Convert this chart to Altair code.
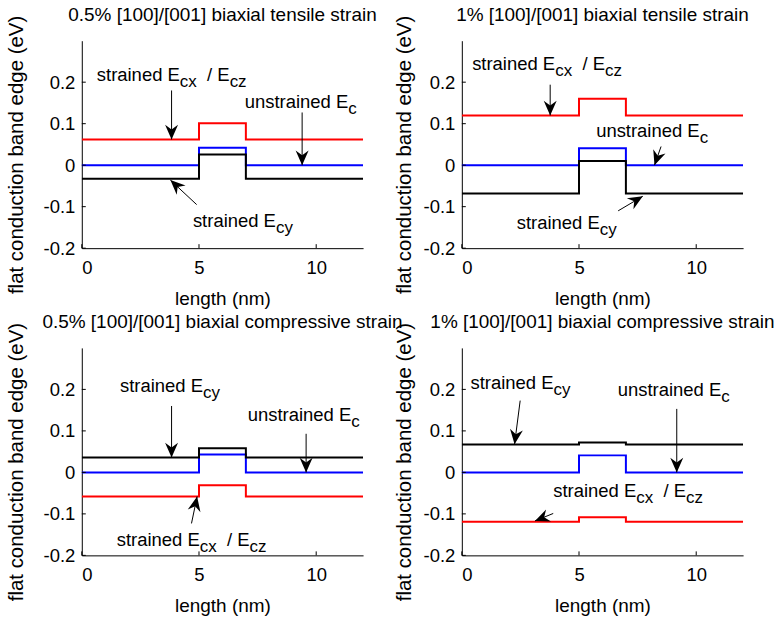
import math
import altair as alt
import pandas as pd

FONT = "Liberation Sans"
W, H = 282, 208
XMIN, XMAX = 0, 12
YMIN, YMAX = -0.2, 0.3

# ---------------- data ----------------
titles = [
    "0.5% [100]/[001] biaxial tensile strain",
    "1% [100]/[001] biaxial tensile strain",
    "0.5% [100]/[001] biaxial compressive strain",
    "1% [100]/[001] biaxial compressive strain",
]
x_ticks = [0, 5, 10]
y_ticks = [-0.2, -0.1, 0, 0.1, 0.2]

x_breaks = [0, 5, 7, 12]          # quantum well from 5 to 7 nm
series = ["red", "blue", "black"]
series_colors = ["#ff0000", "#0000ff", "#000000"]
red_base = [0.062, 0.120, -0.058, -0.119]
red_well = [0.101, 0.160, -0.031, -0.108]
blue_base = [0.0, 0.0, 0.0, 0.0]
blue_well = [0.042, 0.041, 0.043, 0.041]
black_base = [-0.033, -0.068, 0.036, 0.067]
black_well = [0.026, 0.010, 0.058, 0.072]

# annotations (panel, label kind, text anchor, arrow tail, arrow tip)
ann_panel = [0, 0, 0, 1, 1, 1, 2, 2, 2, 3, 3, 3]
ann_kind = ["cxcz", "c", "cy", "cxcz", "c", "cy", "cy", "c", "cxcz", "cy", "c", "cxcz"]
ann_x = [0.64, 6.95, 4.74, 0.44, 5.73, 2.34, 1.63, 7.08, 1.49, 0.37, 6.65, 3.90]
ann_y = [0.204, 0.137, -0.148, 0.230, 0.068, -0.153, 0.193, 0.125, -0.177, 0.202, 0.185, -0.059]
arrow_x1 = [3.83, 9.40, 4.90, 3.77, 8.50, 6.67, 3.83, 9.57, 4.68, 2.49, 9.17, 3.90]
arrow_y1 = [0.180, 0.127, -0.095, 0.194, 0.045, -0.110, 0.160, 0.093, -0.123, 0.173, 0.153, -0.099]
arrow_x2 = [3.83, 9.40, 3.78, 3.77, 8.22, 7.72, 3.83, 9.57, 4.92, 2.25, 9.17, 3.12]
arrow_y2 = [0.062, 0.0, -0.036, 0.120, 0.0, -0.075, 0.036, 0.0, -0.058, 0.068, 0.0, -0.117]

label_parts = {
    "cxcz": [("strained E", "main"), ("cx", "sub"), ("  / E", "main"), ("cz", "sub")],
    "c": [("unstrained E", "main"), ("c", "sub")],
    "cy": [("strained E", "main"), ("cy", "sub")],
}

# ---------------- helpers ----------------
MAIN_SIZE = 18.5
SUB_SIZE = 17
SUB_DY = 6
ARIAL = {' ': 278, '/': 278, 'E': 667, 'a': 556, 'c': 500, 'd': 556, 'e': 556,
         'i': 222, 'n': 556, 'r': 333, 's': 500, 't': 278, 'u': 556,
         'x': 500, 'y': 500, 'z': 500}


def twidth(s, size):
    return sum(ARIAL.get(ch, 556) for ch in s) / 1000.0 * size


PX_X = W / (XMAX - XMIN)
PX_Y = H / (YMAX - YMIN)
ARROW_PATH = "M0,0 L0.75,1.7 L0,1.15 L-0.75,1.7 Z"

y_title_x = [-65, -57]
y_title_y = [114, 114]


def make_panel(p):
    col = p % 2
    bases = [red_base[p], blue_base[p], black_base[p]]
    wells = [red_well[p], blue_well[p], black_well[p]]
    rows = []
    for s, b, w in zip(series, bases, wells):
        pts = [(x_breaks[0], b), (x_breaks[1], b), (x_breaks[1], w),
               (x_breaks[2], w), (x_breaks[2], b), (x_breaks[3], b)]
        for i, (xx, yy) in enumerate(pts):
            rows.append({"series": s, "i": i, "x": xx, "y": yy})
    lines_df = pd.DataFrame(rows)

    xs = alt.Scale(domain=[XMIN, XMAX], nice=False, zero=False)
    ys = alt.Scale(domain=[YMIN, YMAX], nice=False, zero=False)
    xaxis = alt.Axis(values=x_ticks, title="length (nm)", labelPadding=10,
                     titleY=56, titleBaseline="alphabetic")
    yaxis = alt.Axis(values=y_ticks, title="flat conduction band edge (eV)",
                     labelPadding=7, titleX=y_title_x[col], titleY=y_title_y[col],
                     titleBaseline="middle", titleAngle=270, titleFontSize=20.5,
                     labelExpr="datum.value == 0 ? '0' : replace(format(datum.value, '.1f'), '\u2212', '-')")

    def X(f):
        return alt.X(f, scale=xs, axis=xaxis)

    def Y(f):
        return alt.Y(f, scale=ys, axis=yaxis)

    layers = []
    for s, c in zip(series, series_colors):
        layers.append(
            alt.Chart(lines_df).transform_filter(alt.datum.series == s)
            .mark_line(color=c, strokeWidth=2, clip=True)
            .encode(x=X("x:Q"), y=Y("y:Q"), order="i:Q")
        )

    # inward ticks
    xt = pd.DataFrame({"t": x_ticks})
    yt = pd.DataFrame({"t": y_ticks})
    layers.append(alt.Chart(xt).mark_rule(color="black", strokeWidth=1).encode(
        x=X("t:Q"), y=alt.value(H), y2=alt.value(H - 4)))
    layers.append(alt.Chart(yt).mark_rule(color="black", strokeWidth=1).encode(
        y=Y("t:Q"), x=alt.value(0), x2=alt.value(4)))

    # arrows and labels
    arows = []
    seg_rows = []
    for j in range(len(ann_panel)):
        if ann_panel[j] != p:
            continue
        dxp = (arrow_x2[j] - arrow_x1[j]) * PX_X
        dyp = -(arrow_y2[j] - arrow_y1[j]) * PX_Y
        ang = math.degrees(math.atan2(dxp, -dyp)) % 360
        arows.append({"x1": arrow_x1[j], "y1": arrow_y1[j], "x2": arrow_x2[j],
                      "y2": arrow_y2[j], "ang": ang})
        off = 0.0
        for txt, kind in label_parts[ann_kind[j]]:
            size = MAIN_SIZE if kind == "main" else SUB_SIZE
            stripped = txt.lstrip(" ")
            off += twidth(txt[: len(txt) - len(stripped)], size)
            seg_rows.append({"tx": ann_x[j] + off / PX_X, "ty": ann_y[j],
                             "text": stripped, "kind": kind})
            off += twidth(stripped, size)
    adf = pd.DataFrame(arows)
    sdf = pd.DataFrame(seg_rows)

    layers.append(alt.Chart(adf).mark_rule(color="black", strokeWidth=1).encode(
        x=X("x1:Q"), y=Y("y1:Q"), x2="x2:Q", y2="y2:Q"))
    layers.append(alt.Chart(adf).mark_point(shape=ARROW_PATH, filled=True, size=300,
                                            color="black", opacity=1, strokeWidth=0).encode(
        x=X("x2:Q"), y=Y("y2:Q"), angle=alt.Angle("ang:Q", scale=None)))
    layers.append(alt.Chart(sdf).transform_filter(alt.datum.kind == "main")
                  .mark_text(align="left", baseline="alphabetic", font=FONT,
                             fontSize=MAIN_SIZE, color="black")
                  .encode(x=X("tx:Q"), y=Y("ty:Q"), text="text:N"))
    layers.append(alt.Chart(sdf).transform_filter(alt.datum.kind == "sub")
                  .mark_text(align="left", baseline="alphabetic", font=FONT,
                             fontSize=SUB_SIZE, dy=SUB_DY, color="black")
                  .encode(x=X("tx:Q"), y=Y("ty:Q"), text="text:N"))

    return alt.layer(*layers).properties(width=W, height=H, title=titles[p])


chart = (
    alt.concat(make_panel(0), make_panel(1), make_panel(2), make_panel(3),
               columns=2, spacing={"row": 100, "column": 99}, bounds="flush")
    .properties(padding={"left": 6, "top": 5, "right": 5, "bottom": 5})
    .configure_view(stroke=None)
    .configure_axis(domainColor="black", domainWidth=1, ticks=False, tickSize=0,
                    grid=False, labelFont=FONT, labelFontSize=18.5, labelColor="black",
                    titleFont=FONT, titleFontSize=19, titleFontWeight="normal",
                    titleColor="black")
    .configure_title(font=FONT, fontSize=19, fontWeight="normal", anchor="middle",
                     frame="group", baseline="alphabetic", offset=-10, color="black")
)
chart.save("out.html", embed_options={"renderer": "svg", "actions": False})
